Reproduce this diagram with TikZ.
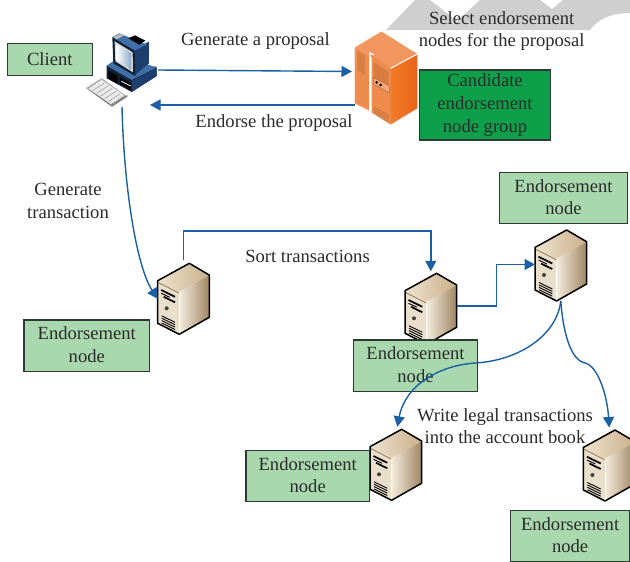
\documentclass[tikz,border=0pt]{standalone}
\usepackage{fontspec}
\setmainfont{Liberation Serif}
\usetikzlibrary{arrows.meta,calc}
\definecolor{boxgreen}{HTML}{A9D8AE}
\definecolor{darkgreen}{HTML}{0E9F4A}
\definecolor{boxline}{HTML}{2D3A33}
\definecolor{linkblue}{HTML}{1B5FA5}
\definecolor{txt}{HTML}{2B2B2B}
\definecolor{wm}{HTML}{CFCFCF}
\definecolor{navy}{HTML}{1C3F6E}
\definecolor{steel}{HTML}{3F6FA5}
\definecolor{deep}{HTML}{0F2238}
\definecolor{orA}{HTML}{F0965E}
\definecolor{orB}{HTML}{EE8C4E}
\definecolor{orC}{HTML}{F37A28}
\definecolor{orD}{HTML}{E8641A}
\definecolor{orE}{HTML}{F4A77A}
\definecolor{orLine}{HTML}{B9682F}
\definecolor{srvA}{HTML}{F3EBDD}
\definecolor{srvB}{HTML}{A08662}
\definecolor{srvC}{HTML}{EFE3CE}
\definecolor{srvD}{HTML}{C9B08C}
\definecolor{srvE}{HTML}{EADFCB}
\tikzset{
  lbl/.style={align=center,text=txt,inner sep=0pt,font=\fontsize{18.6}{22.6}\selectfont},
  gbox/.style={lbl,draw=boxline,line width=1.3pt,fill=boxgreen},
  ebox/.style={gbox,text depth=2pt},
  link/.style={draw=linkblue,line width=1.4pt,-{Triangle[length=10.5pt,width=11pt]}},
  plainlink/.style={draw=linkblue,line width=1.4pt},
  iconslot/.style={inner sep=0pt,outer sep=0pt,anchor=north west},
  serverpic/.pic={
    \path[left color=srvA,right color=srvB] (21.6,28.4)--(51.6,11.7)--(51.6,54)--(21.6,71)--cycle;
    \path[fill=srvE] (0,17.4)--(21.6,28.4)--(21.6,71)--(0,60)--cycle;
    \path[left color=srvC,right color=srvD] (31.6,0)--(51.6,11.7)--(21.6,28.4)--(0,17.4)--cycle;
    \draw[srvB,line width=1pt] (.7,19.2)--(21,29.6);
    \draw[black,line width=1.7pt] (3.5,26.7)--(17.3,33.5) (6,33.5)--(17.3,39);
    \draw[black,line width=.9pt] (3.5,30)--(12,34);
    \fill[black!75] (9,45) circle (2pt);
    \foreach \d in {0,2.4,4.8,7.2}{\draw[black,line width=.9pt] (4,52.5+\d)--(17.3,59+\d);}
    \draw[black,line width=1.5pt,line join=round] (31.6,0)--(51.6,11.7)--(51.6,54)--(21.6,71)--(0,60)--(0,17.4)--cycle;
    \draw[white,line width=.7pt] (21.6,29.5)--(21.6,70);
  },
  pcpic/.pic={
    \begin{scope}[scale=1/3]
      % keyboard
      \fill[black!30] (258,264)--(305,234)--(382,290)--(336,320)--cycle;
      \fill[black!50] (258,264)--(336,312)--(382,285)--(382,290)--(336,320)--cycle;
      \foreach \i in {0,...,5}{\draw[black!8,line width=2.6pt] ($(268,262)!{\i/5.0}!(300,241)$) -- ($(336,310)!{\i/5.0}!(368,288)$);}
      \foreach \i in {0,...,6}{\draw[black!40,line width=.5pt] ($(266,264)!{\i/6.0}!(338,312)$) -- ($(302,240)!{\i/6.0}!(372,290)$);}
      % base
      \fill[deep] (320,197)--(320,235)--(395,276)--(470,228)--(470,200)--cycle;
      \fill[steel] (320,197)--(395,240)--(470,203)--(420,185)--(360,170)--cycle;
      \fill[navy] (395,242)--(470,205)--(470,228)--(395,276)--cycle;
      \fill[black] (326,212)--(352,226)--(352,250)--(326,234)--cycle;
      \fill[black] (360,232)--(393,250)--(393,270)--(360,252)--cycle;
      \draw[white,line width=.8pt] (364,244)--(392,258);
      % monitor back
      \fill[navy] (400,150)--(447,125)--(447,190)--(405,225)--cycle;
      \fill[steel] (336,112)--(358,100)--(392,114)--(416,124)--(442,133)--(402,153)--cycle;
      \fill[black] (385,115)--(405,106)--(436,122)--(418,134)--cycle;
      \fill[black!25] (360,102)--(372,106)--(350,118)--(340,112)--cycle;
      % monitor front
      \fill[deep] (337,112)--(404,152)--(406,228)--(340,190)--cycle;
      \fill[black!15] (344,124)--(398,157)--(399,217)--(346,184)--cycle;
      \shade[left color=white,right color=steel!60!white] (349,132)--(394,160)--(394,210)--(350,180)--cycle;
    \end{scope}
  },
  cabinetpic/.pic={
    \begin{scope}[scale=1/3]
      \path[left color=orC,right color=orD] (182,205)--(262,162)--(262,325)--(182,373)--cycle;
      \fill[orA] (75,143)--(155,95)--(262,162)--(182,205)--cycle;
      \fill[orB] (75,143)--(118,168)--(118,330)--(75,310)--cycle;
      \fill[orB] (125,165)--(182,205)--(182,373)--(125,337)--cycle;
      \foreach \d in {0,5,...,55}{\draw[orLine,line width=.4pt] (83,155+\d)--(105,168+\d);}
      \foreach \d in {0,5,...,40}{\draw[orLine,line width=.4pt] (131,188+\d)--(176,218+\d);}
      \foreach \d in {0,5,...,20}{\draw[orLine,line width=.4pt] (131,320+\d)--(177,346+\d);}
      \fill[orE] (130,232)--(178,258)--(178,279)--(130,252)--cycle;
      \draw[orLine,line width=.5pt] (130,232)--(178,258)--(178,279)--(130,252)--cycle;
      \fill[black] (140,247) circle (4.5pt) (152,255) circle (4.5pt);
      \draw[white,line width=1pt] (182,205)--(262,162);
      \draw[white,line width=1.1pt] (120,332)--(120,158)--(132,165);
      \draw[orE,line width=.7pt] (75,143)--(155,95) (75,143)--(75,310)--(118,332);
      \draw[orLine!60!white,line width=.7pt] (125,337)--(182,373)--(262,325);
    \end{scope}
  }
}
\begin{document}
\begin{tikzpicture}[x=1pt,y=-1pt]
\useasboundingbox (0,0) rectangle (630,562);
\clip (0,0) rectangle (630,562);
\fill[white] (0,0) rectangle (630,562);
% background mark
\fill[wm] (386,30)--(415,0)--(430,0)--(457,21)--(480,0)--(540,0)--(552,9)--(563,0)--(630,0)--(630,13) .. controls (610,13) and (597,20) .. (590,30)--cycle;
% boxes
\node[gbox,minimum width=85pt,minimum height=31.6pt] (client) at (49.8,59.5) {Client};
\node[gbox,fill=darkgreen,minimum width=131.4pt,minimum height=70pt] (group) at (485,105) {Candidate\\endorsement\\node group};
% icon slots
\node[iconslot,minimum width=72pt,minimum height=74pt] (pc) at (86,33) {};
\node[iconslot,minimum width=63pt,minimum height=93pt] (cab) at (355,31) {};
\node[iconslot,minimum width=51.6pt,minimum height=71pt] (s1) at (157.7,263.3) {};
\node[iconslot,minimum width=51.6pt,minimum height=71pt] (s2) at (405,273.3) {};
\node[iconslot,minimum width=51.6pt,minimum height=71pt] (s3) at (535,230) {};
\node[iconslot,minimum width=51.6pt,minimum height=71pt] (s4) at (370,429.3) {};
\node[iconslot,minimum width=51.6pt,minimum height=71pt] (s5) at (583.4,430) {};
\pic at (0,0) {pcpic};
\pic at (330,0) {cabinetpic};
\foreach \s in {s1,s2,s3,s4,s5}{\pic at (\s.north west) {serverpic};}
% endorsement boxes
\node[ebox,minimum width=125.7pt,minimum height=51.7pt] (e1) at (86.8,345.8) {Endorsement\\node};
\node[ebox,minimum width=124.4pt,minimum height=51.7pt] (e2) at (415.5,365.8) {Endorsement\\node};
\node[ebox,minimum width=128.4pt,minimum height=50.6pt] (e3) at (563.5,198) {Endorsement\\node};
\node[ebox,minimum width=123.3pt,minimum height=51pt] (e4) at (307.7,476.2) {Endorsement\\node};
\node[ebox,minimum width=118.8pt,minimum height=51pt] (e5) at (570.1,536.2) {Endorsement\\node};
% labels
\node[lbl] (t1) at (255.5,41) {Generate a proposal};
\node[lbl] (t2) at (274,123) {Endorse the proposal};
\node[lbl] (t3) at (501.7,31) {Select endorsement\\nodes for the proposal};
\node[lbl] (t4) at (68,201) {Generate\\transaction};
\node[lbl] (t5) at (307.5,256) {Sort transactions};
\node[lbl] (t6) at (505,426) {Write legal transactions\\into the account book};
% connectors
\coordinate (fwdend) at ($(cab.west)+(-3,-6)$);
\draw[link] (pc.east) -- (fwdend);
\coordinate (retstart) at (cab.west |- 0,105);
\coordinate (retend) at ($(pc.south east)+(-8,-2)$);
\draw[link] (retstart) -- (retend);
\draw[link] (pc.south) .. controls +(2,82) and +(-21,-32) .. (s1.west);
\draw[link] ([yshift=3pt]s1.north) -- ++(0,-29.5) -| ([yshift=2pt]s2.north);
\draw[link] ([yshift=3pt]s2.east) -- ++(40,0) |- ([yshift=1pt]s3.west);
\coordinate (m1) at (476,363);
\coordinate (m2) at (585,363);
\draw[plainlink] (s3.south) .. controls +(-4,34) and +(44,-3) .. (m1);
\draw[link] (m1) .. controls +(-36,2) and +(8,-42) .. ([xshift=1.5pt,yshift=2.5pt]s4.north);
\draw[plainlink] (s3.south) .. controls +(2,29) and +(-15,-3) .. (m2);
\draw[link] (m2) .. controls +(13,3) and +(-2,-32) .. ([yshift=2.5pt]s5.north);
\end{tikzpicture}
\end{document}
